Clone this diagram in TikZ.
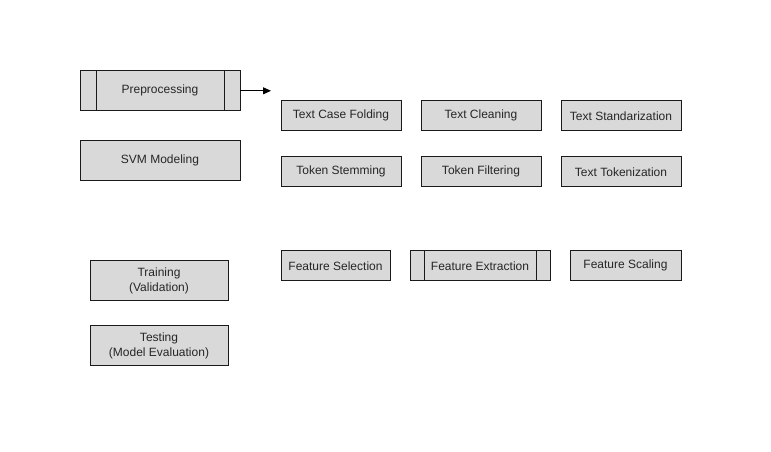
\documentclass[tikz,border=0pt]{standalone}
\usepackage{fontspec}
\setmainfont{Liberation Sans}
\usetikzlibrary{arrows.meta}
\definecolor{boxfill}{HTML}{D9D9D9}
\definecolor{boxline}{HTML}{1A1A1A}
\tikzset{
  box/.style={draw=boxline, fill=boxfill, line width=0.9pt, inner sep=0pt, align=center,
    font=\fontsize{12}{14.5}\selectfont, text=black!85},
  subline/.style={draw=boxline, line width=0.9pt},
  conn/.style={draw=black, line width=0.9pt, -{Triangle[length=8pt,width=7pt]}}
}
\newcommand{\bx}[6]{% name, x1, y1, x2, y2, text
  \node[box, minimum width={#4-#2}, minimum height={#5-#3}] (#1) at ({(#2+#4)/2},{-(#3+#5)/2-0.8}) {#6};}
\begin{document}
\begin{tikzpicture}[x=1pt,y=1pt]
\useasboundingbox (0,0) rectangle (771,-451);
\fill[white] (0,0) rectangle (771,-451);
\bx{pre}{80}{70}{240}{110}{Preprocessing}
\draw[subline] (96,-70.8) -- (96,-110.8);
\draw[subline] (224,-70.8) -- (224,-110.8);
\bx{svm}{80}{140}{240}{180}{SVM Modeling}
\bx{tcf}{281}{100}{401}{130}{Text Case Folding}
\bx{tcl}{421}{100}{541}{130}{Text Cleaning}
\bx{tst}{561}{100}{681}{130}{Text Standarization}
\bx{tsm}{281}{156}{401}{186}{Token Stemming}
\bx{tfl}{421}{156}{541}{186}{Token Filtering}
\bx{ttk}{561}{156}{681}{186}{Text Tokenization}
\bx{fsel}{281}{250}{390}{280}{Feature Selection}
\bx{fext}{410}{250}{550}{280}{Feature Extraction}
\draw[subline] (424,-250.8) -- (424,-280.8);
\draw[subline] (536,-250.8) -- (536,-280.8);
\bx{fsc}{570}{250}{681}{280}{Feature Scaling}
\bx{trn}{90}{260}{228}{300}{Training\\(Validation)}
\bx{tst2}{90}{325}{228}{365}{Testing\\(Model Evaluation)}
\coordinate (arrend) at (271,-90.8);
\draw[conn] (pre.east) -- (arrend);
\end{tikzpicture}
\end{document}
